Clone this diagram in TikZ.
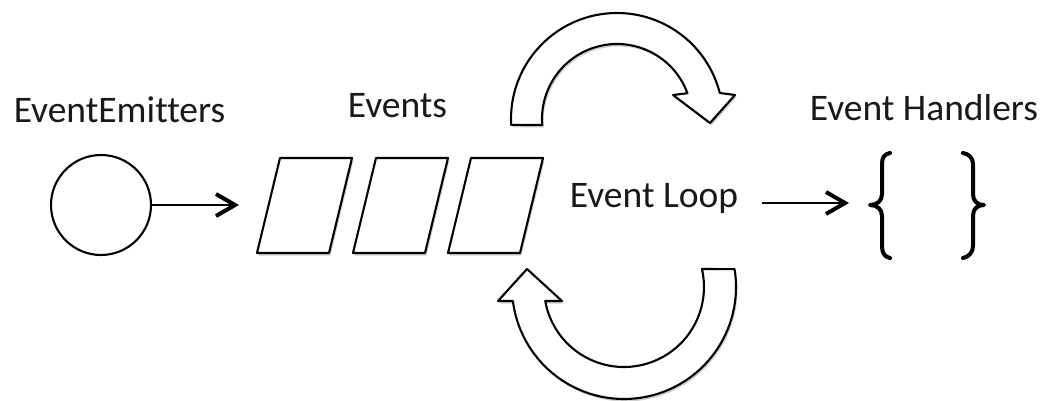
\documentclass[tikz,border=0pt]{standalone}
\usepackage{fontspec}
\setmainfont{Carlito}[Ligatures=NoCommon]
\usetikzlibrary{arrows.meta,shadows}
\begin{document}
\begin{tikzpicture}[x=1pt,y=1pt,
  lbl/.style={font=\fontsize{37.5}{45}\selectfont, anchor=base, inner sep=0pt, text=black!90},
  outl/.style={draw=black, line width=2.1pt, fill=white, line join=round},
  shad/.style={drop shadow={shadow xshift=1.5pt, shadow yshift=-2.5pt, opacity=0.18, fill=black}},
  shaft/.style={line width=2.3pt},
  chev/.style={line width=4pt, line cap=butt, line join=miter},
  bracestyle/.style={line width=4pt, line cap=round, line join=round}
]
\useasboundingbox (0,0) rectangle (1047,400);
\fill[white] (0,0) rectangle (1047,400);

% labels
\node[lbl] (temit) at (119.5,278) {EventEmitters};
\node[lbl] (tevents) at (397.5,283) {Events};
\node[lbl] (loop) at (654,193) {Event Loop};
\node[lbl] (thand) at (924,280) {Event Handlers};

% emitter circle
\node[circle, draw=black, line width=2.1pt, fill=white, minimum size=100pt, inner sep=0pt] (em) at (101,195) {};

% events queue
\foreach \x in {257,353,448} {
  \draw[outl, shad] (\x,147) -- ++(72,0) -- ++(23,95) -- ++(-72,0) -- cycle;
}

% top curved arrow
\coordinate (ct) at (617,281);
\draw[outl, shad] ([shift={(183.2:106pt)}]ct) arc[start angle=183.2, end angle=14.2, radius=106pt]
  -- (735,305) -- (710,277) -- (673,305)
  -- ([shift={(20.1:75pt)}]ct) arc[start angle=20.1, end angle=184.6, radius=75pt] -- cycle;

% bottom curved arrow
\coordinate (cb) at (624,113);
\draw[outl, shad] ([shift={(9.2:112pt)}]cb) arc[start angle=9.2, end angle=-172.8, radius=112pt]
  -- (498,99) -- (527,131) -- (562,99)
  -- ([shift={(-169.9:80pt)}]cb) arc[start angle=-169.9, end angle=13, radius=80pt] -- cycle;

% connectors
\coordinate (p1in) at (235,195);
\draw[shaft] (em.east) -- (p1in);
\draw[chev] ([shift={(-19pt,11pt)}]p1in) -- (p1in) -- ([shift={(-19pt,-11pt)}]p1in);
\coordinate (a2s) at (762,197);
\coordinate (a2e) at (845,197);
\draw[shaft] (a2s) -- (a2e);
\draw[chev] ([shift={(-19pt,11pt)}]a2e) -- (a2e) -- ([shift={(-19pt,-11pt)}]a2e);

% braces
\draw[bracestyle] (890,247) .. controls (884,246) and (882,242) .. (882,236) -- (882,206)
  .. controls (882,199) and (877,195) .. (870,195)
  .. controls (877,195) and (882,191) .. (882,184) -- (882,154)
  .. controls (882,148) and (884,143) .. (890,142);
\draw[bracestyle] (963,247) .. controls (969,246) and (973,242) .. (973,236) -- (973,206)
  .. controls (973,199) and (977,195) .. (984,195)
  .. controls (977,195) and (973,191) .. (973,184) -- (973,154)
  .. controls (973,148) and (969,143) .. (963,142);
\end{tikzpicture}
\end{document}
